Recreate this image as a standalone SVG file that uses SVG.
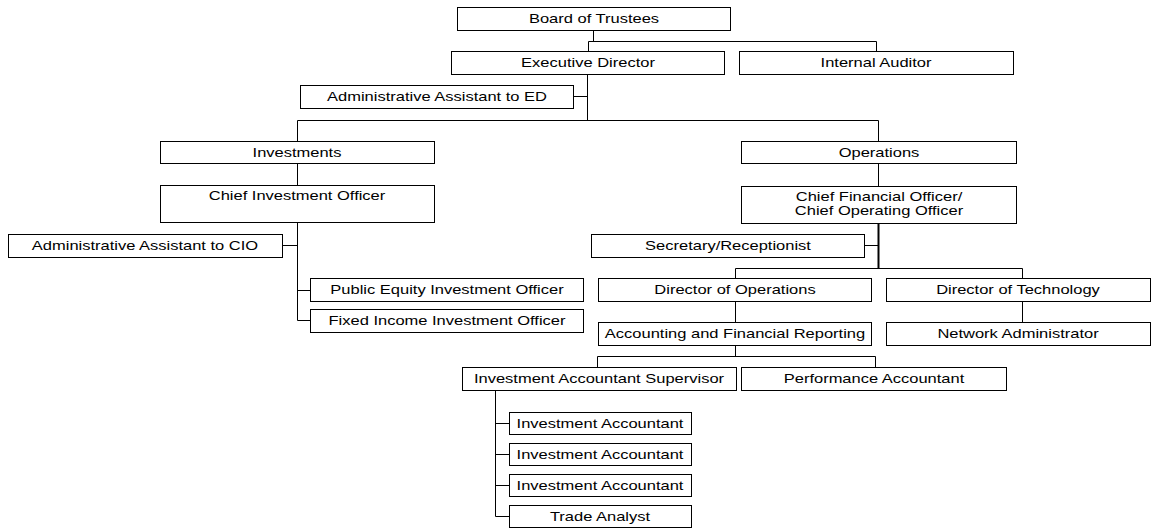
<svg xmlns="http://www.w3.org/2000/svg" width="1153" height="529" viewBox="0 0 1153 529">
<style>
.b{fill:#fff;stroke:#000;stroke-width:1}
.c{fill:none;stroke:#000;stroke-width:1}
.t{font-family:"Liberation Sans",Arial,sans-serif;font-size:12.5px;text-anchor:middle;fill:#000}
</style>
<rect width="1153" height="529" fill="#fff"/>
<g id="connectors" transform="translate(0.5 0.5)">
<path class="c" d="M593,30 V41 M588,51 V41 H876 V51"/>
<path class="c" d="M587,74 V120 M573,96 H587 M297,141 V120 H878 V141"/>
<path class="c" d="M297,163 V185 M297,222 V320 M282,245 H297 M297,290 H310 M297,320 H310"/>
<path class="c" d="M878,163 V186"/>
<path class="c" d="M878,223 V268" style="stroke-width:2"/>
<path class="c" d="M864,245 H878 M735,278 V268 H1022 V278 M735,301 V322 M1022,301 V322"/>
<path class="c" d="M735,345 V356 M597,367 V356 H875 V367"/>
<path class="c" d="M495,390 V516 H509 M495,423 H509 M495,454 H509 M495,485 H509"/>
</g>
<g transform="translate(0.5 0.5)">
<g id="board"><rect class="b" x="457" y="7" width="273" height="23"/></g>
<g id="exec"><rect class="b" x="451" y="51" width="273" height="23"/></g>
<g id="auditor"><rect class="b" x="739" y="51" width="274" height="23"/></g>
<g id="aa-ed"><rect class="b" x="300" y="85" width="273" height="23"/></g>
<g id="investments"><rect class="b" x="160" y="141" width="274" height="22"/></g>
<g id="cio"><rect class="b" x="160" y="185" width="274" height="37"/></g>
<g id="aa-cio"><rect class="b" x="8" y="234" width="274" height="23"/></g>
<g id="public-equity"><rect class="b" x="310" y="278" width="273" height="23"/></g>
<g id="fixed-income"><rect class="b" x="310" y="309" width="273" height="23"/></g>
<g id="operations"><rect class="b" x="741" y="141" width="275" height="22"/></g>
<g id="cfo"><rect class="b" x="741" y="186" width="275" height="37"/></g>
<g id="secretary"><rect class="b" x="591" y="234" width="273" height="23"/></g>
<g id="dir-ops"><rect class="b" x="598" y="278" width="273" height="23"/></g>
<g id="dir-tech"><rect class="b" x="886" y="278" width="264" height="23"/></g>
<g id="afr"><rect class="b" x="598" y="322" width="273" height="23"/></g>
<g id="net-admin"><rect class="b" x="886" y="322" width="264" height="23"/></g>
<g id="ias"><rect class="b" x="462" y="367" width="274" height="23"/></g>
<g id="perf"><rect class="b" x="741" y="367" width="265" height="23"/></g>
<g id="ia1"><rect class="b" x="509" y="412" width="182" height="22"/></g>
<g id="ia2"><rect class="b" x="509" y="443" width="182" height="22"/></g>
<g id="ia3"><rect class="b" x="509" y="474" width="182" height="22"/></g>
<g id="trade"><rect class="b" x="509" y="505" width="182" height="22"/></g>
</g>
<g id="labels">
<text class="t" transform="translate(594 23) scale(1.32 1)">Board of Trustees</text>
<text class="t" transform="translate(588 67) scale(1.32 1)">Executive Director</text>
<text class="t" transform="translate(876 67) scale(1.32 1)">Internal Auditor</text>
<text class="t" transform="translate(437 101) scale(1.32 1)">Administrative Assistant to ED</text>
<text class="t" transform="translate(297 157) scale(1.32 1)">Investments</text>
<text class="t" transform="translate(297 200) scale(1.32 1)">Chief Investment Officer</text>
<text class="t" transform="translate(145 250) scale(1.32 1)">Administrative Assistant to CIO</text>
<text class="t" transform="translate(447 294) scale(1.32 1)">Public Equity Investment Officer</text>
<text class="t" transform="translate(447 325) scale(1.32 1)">Fixed Income Investment Officer</text>
<text class="t" transform="translate(879 157) scale(1.32 1)">Operations</text>
<text class="t" transform="translate(879 201) scale(1.32 1)">Chief Financial Officer/</text>
<text class="t" transform="translate(879 215) scale(1.32 1)">Chief Operating Officer</text>
<text class="t" transform="translate(728 250) scale(1.32 1)">Secretary/Receptionist</text>
<text class="t" transform="translate(735 294) scale(1.32 1)">Director of Operations</text>
<text class="t" transform="translate(1018 294) scale(1.32 1)">Director of Technology</text>
<text class="t" transform="translate(735 338) scale(1.32 1)">Accounting and Financial Reporting</text>
<text class="t" transform="translate(1018 338) scale(1.32 1)">Network Administrator</text>
<text class="t" transform="translate(599 383) scale(1.32 1)">Investment Accountant Supervisor</text>
<text class="t" transform="translate(874 383) scale(1.32 1)">Performance Accountant</text>
<text class="t" transform="translate(600 428) scale(1.32 1)">Investment Accountant</text>
<text class="t" transform="translate(600 459) scale(1.32 1)">Investment Accountant</text>
<text class="t" transform="translate(600 490) scale(1.32 1)">Investment Accountant</text>
<text class="t" transform="translate(600 521) scale(1.32 1)">Trade Analyst</text>
</g>
</svg>
